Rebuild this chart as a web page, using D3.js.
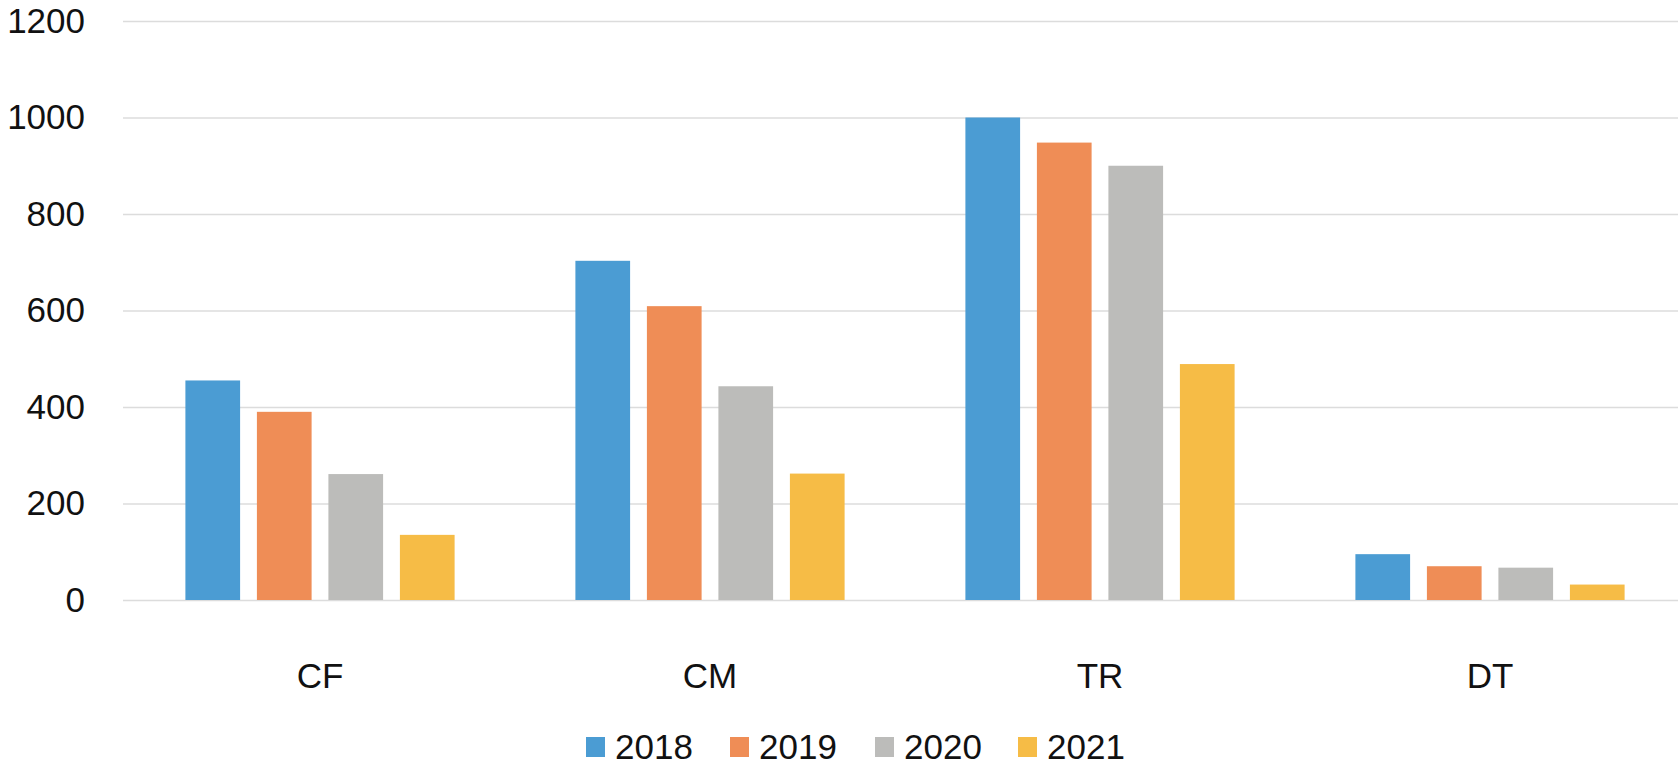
<!DOCTYPE html>
<html>
<head>
<meta charset="utf-8">
<script src="https://cdn.jsdelivr.net/npm/d3@7"></script>
<style>
  body { margin: 0; background: #fff; }
  text { font-family: "Liberation Sans", Arial, sans-serif; fill: #111; }
</style>
</head>
<body>
<div id="plot"></div>
<script>
// categories and yearly series
var categories = ["CF", "CM", "TR", "DT"];
var years = ["2018", "2019", "2020", "2021"];
var s2018 = [455, 703, 1000, 95];
var s2019 = [390, 609, 948, 70];
var s2020 = [261, 443, 900, 67];
var s2021 = [135, 262, 489, 32];
var yTicks = [0, 200, 400, 600, 800, 1000, 1200];
var colors = ["#4b9cd3", "#ef8d56", "#bcbcba", "#f6bc46"];

var series = [s2018, s2019, s2020, s2021];

var width = 1680, height = 768;

var svg = d3.select("div#plot")
  .append("svg")
    .attr("width", width)
    .attr("height", height);

// plot area
var left = 123, right = 1678;

var y = d3.scaleLinear()
    .domain([0, 1200])
    .range([600, 21]);

var x0 = d3.scaleBand()
    .domain(categories)
    .range([125, 1685])
    .padding(0);

var x1 = d3.scaleBand()
    .domain(years)
    .range([x0.bandwidth() / 2 - 134.6, x0.bandwidth() / 2 + 134.6])
    .paddingInner(0.235)
    .paddingOuter(0);

// gridlines + y labels
var yAxis = d3.axisLeft(y)
    .tickValues(yTicks)
    .tickSize(-(right - left))
    .tickPadding(38)
    .tickFormat(d3.format("d"));

var gy = svg.append("g")
  .attr("transform", "translate(" + left + ",0)")
  .call(yAxis);
gy.select(".domain").remove();
gy.selectAll(".tick line")
  .attr("stroke", "#dcdcdc")
  .attr("stroke-width", 1.5);
gy.selectAll(".tick text")
  .style("font-size", "35px")
  .attr("fill", "#111");

// bars
var groups = svg.selectAll(".cat")
  .data(categories)
  .enter().append("g")
  .attr("class", "cat")
  .attr("transform", function(d) { return "translate(" + x0(d) + ",0)"; });

groups.selectAll("rect")
  .data(function(d, i) {
    return years.map(function(yr, j) { return {year: yr, value: series[j][i], idx: j}; });
  })
  .enter().append("rect")
  .attr("x", function(d) { return x1(d.year); })
  .attr("y", function(d) { return y(d.value); })
  .attr("width", x1.bandwidth())
  .attr("height", function(d) { return y(0) - y(d.value); })
  .attr("fill", function(d) { return colors[d.idx]; });

// category labels
var xAxis = d3.axisBottom(x0).tickSize(0).tickPadding(63);
var gx = svg.append("g")
  .attr("transform", "translate(0," + y(0) + ")")
  .call(xAxis);
gx.select(".domain").remove();
gx.selectAll(".tick text")
  .style("font-size", "35px")
  .attr("fill", "#111");

// legend
var legendX = [586, 730, 875, 1018];
var legend = svg.selectAll(".legend")
  .data(years)
  .enter().append("g")
  .attr("class", "legend")
  .attr("transform", function(d, i) { return "translate(" + legendX[i] + ",747)"; });

legend.append("rect")
  .attr("x", 0)
  .attr("y", -10)
  .attr("width", 19)
  .attr("height", 20)
  .attr("fill", function(d, i) { return colors[i]; });

legend.append("text")
  .attr("x", 29)
  .attr("y", 0)
  .attr("dy", "0.35em")
  .style("font-size", "35px")
  .text(function(d) { return d; });
</script>
</body>
</html>
